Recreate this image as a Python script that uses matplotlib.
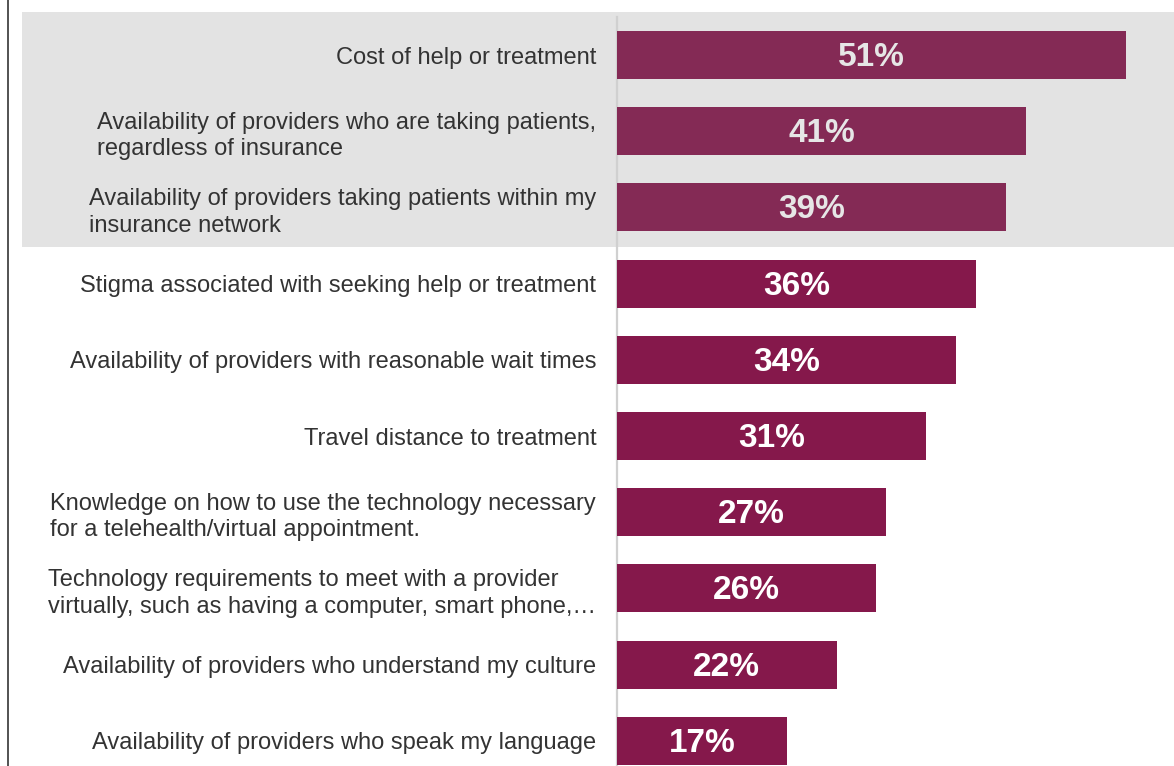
import matplotlib
matplotlib.use("Agg")
import matplotlib.pyplot as plt
from matplotlib.patches import Rectangle
from matplotlib.lines import Line2D
from matplotlib.transforms import offset_copy

plt.rcParams['font.family'] = ['Liberation Sans', 'DejaVu Sans']

labels = [
    "Cost of help or treatment",
    "Availability of providers who are taking patients,\nregardless of insurance",
    "Availability of providers taking patients within my\ninsurance network",
    "Stigma associated with seeking help or treatment",
    "Availability of providers with reasonable wait times",
    "Travel distance to treatment",
    "Knowledge on how to use the technology necessary\nfor a telehealth/virtual appointment.",
    "Technology requirements to meet with a provider\nvirtually, such as having a computer, smart phone,\u2026",
    "Availability of providers who understand my culture",
    "Availability of providers who speak my language",
]
values = [51, 41, 39, 36, 34, 31, 27, 26, 22, 17]
highlighted = [True, True, True, False, False, False, False, False, False, False]

W, H = 1174, 766
fig = plt.figure(figsize=(W / 100, H / 100), dpi=100)
fig.patch.set_facecolor("white")

# shaded band behind the top three items
fig.patches.append(Rectangle((22 / W, 1 - 247 / H), (W - 22) / W, (247 - 12) / H,
                             transform=fig.transFigure, facecolor="#e3e3e3",
                             edgecolor="none", zorder=0))
# thin frame line on the left edge
fig.add_artist(Line2D([8 / W, 8 / W], [0, 1], transform=fig.transFigure,
                      color="#444444", linewidth=1.3, zorder=1))

ax = fig.add_axes([617 / W, 0, (W - 617) / W, 1 - 17 / H])
ax.set_facecolor("none")
ax.set_zorder(2)

pos = list(range(len(values)))
colors = ["#842a55" if h else "#85184b" for h in highlighted]
ax.barh(pos, values, height=0.63, color=colors, edgecolor="none", zorder=3)

value_tf = offset_copy(ax.transData, fig=fig, x=0, y=-2.5, units="dots")
for y, v, h in zip(pos, values, highlighted):
    ax.text(v / 2, y, f"{v}%", ha="center", va="center", fontsize=24,
            fontweight="bold", color="#e6e6e6" if h else "white", zorder=4,
            transform=value_tf)

ax.set_xlim(0, (W - 617) / 9.98)
ax.set_ylim(9.33, -0.5)
ax.set_yticks(pos)
ax.set_yticklabels(labels, fontsize=17, color="#333333")
for t in ax.get_yticklabels():
    t.set_multialignment("left")
    t.set_linespacing(1.27)
ax.tick_params(axis="y", length=0, pad=15)
ax.set_xticks([])

for s in ["top", "right", "bottom"]:
    ax.spines[s].set_visible(False)
ax.spines["left"].set_color("#d0d0d0")
ax.spines["left"].set_linewidth(1.6)

fig.savefig("out.png", dpi=100)
